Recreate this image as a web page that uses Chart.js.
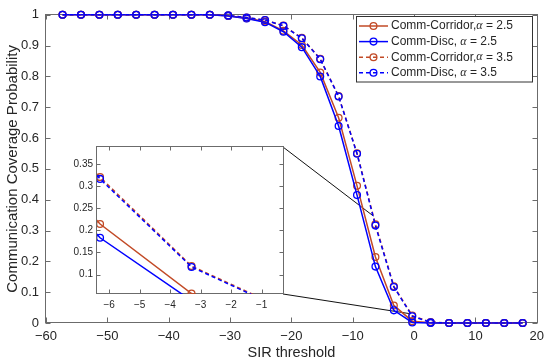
<!DOCTYPE html>
<html lang="en">
<head>
  <meta charset="UTF-8">
  <title>Communication Coverage Probability</title>
  <style>
    html, body { margin: 0; padding: 0; background: #fff; }
    #wrap { position: relative; width: 550px; height: 364px; }
    #mainChart { position: absolute; left: 0; top: 0; }
    #insetChart { position: absolute; left: 60px; top: 137px; }
  </style>
</head>
<body>
  <div id="wrap">
    <canvas id="mainChart" width="550" height="364"></canvas>
    <canvas id="insetChart" width="230" height="180"></canvas>
  </div>
  <script src="https://cdn.jsdelivr.net/npm/chart.js@4.4.1/dist/chart.umd.min.js"></script>
  <script>
    // SIR threshold values (dB)
    const sirThreshold = [-57.3, -54.3, -51.3, -48.3, -45.3, -42.3, -39.3, -36.3, -33.3, -30.3,
      -27.3, -24.3, -21.3, -18.3, -15.3, -12.3, -9.3, -6.3, -3.3, -0.3, 2.7, 5.7, 8.7, 11.7, 14.7, 17.7];

    const corridorA25 = [1, 1, 1, 1, 1, 1, 1, 1, 1, 0.997, 0.989, 0.978, 0.948, 0.902, 0.813, 0.666,
      0.445, 0.214, 0.057, 0.006, 0.001, 0, 0, 0, 0, 0];
    const discA25 = [1, 1, 1, 1, 1, 1, 1, 1, 1, 0.996, 0.988, 0.976, 0.945, 0.895, 0.800, 0.639,
      0.415, 0.183, 0.041, 0.002, 0, 0, 0, 0, 0, 0];
    const corridorA35 = [1, 1, 1, 1, 1, 1, 1, 1, 1, 0.998, 0.991, 0.983, 0.965, 0.925, 0.857, 0.736,
      0.551, 0.320, 0.119, 0.024, 0.003, 0, 0, 0, 0, 0];
    const discA35 = [1, 1, 1, 1, 1, 1, 1, 1, 1, 0.998, 0.991, 0.983, 0.964, 0.924, 0.856, 0.735,
      0.549, 0.316, 0.117, 0.022, 0.002, 0, 0, 0, 0, 0];

    const seriesNames = ['Comm-Corridor,', 'Comm-Disc, ', 'Comm-Corridor,', 'Comm-Disc, '];
    const alphaValues = ['2.5', '2.5', '3.5', '3.5'];

    const xTicksMain = [-60, -50, -40, -30, -20, -10, 0, 10, 20];
    const yTicksMain = [0, 0.1, 0.2, 0.3, 0.4, 0.5, 0.6, 0.7, 0.8, 0.9, 1];
    const xTicksInset = [-6, -5, -4, -3, -2, -1];
    const yTicksInset = [0.1, 0.15, 0.2, 0.25, 0.3, 0.35];

    // zoom connector end points (main-axis data coords)
    const connectorEnds = [{ x: -6.63, y: 0.347 }, { x: -0.6, y: 0.03 }];

    const RED = '#C24A26';
    const BLUE = '#0000FF';
    const AXIS = '#6b6b6b';
    const TEXT = '#262626';
    const FONT = '"Liberation Sans", Arial, sans-serif';

    function pts(ys) {
      return sirThreshold.map((x, i) => ({ x: x, y: ys[i] }));
    }

    function makeDatasets(clip) {
      const styles = [
        { data: corridorA25, color: RED, dash: [], order: 4 },
        { data: discA25, color: BLUE, dash: [], order: 3 },
        { data: corridorA35, color: RED, dash: [4, 3], order: 2 },
        { data: discA35, color: BLUE, dash: [4, 3], order: 1 }
      ];
      return styles.map((s, i) => ({
        label: seriesNames[i] + ' \u03b1 = ' + alphaValues[i],
        data: pts(s.data),
        borderColor: s.color,
        backgroundColor: 'transparent',
        borderWidth: 1.5,
        borderDash: s.dash,
        pointRadius: 3.4,
        pointBorderWidth: 1.3,
        pointBorderColor: s.color,
        pointBackgroundColor: 'transparent',
        pointStyle: 'circle',
        tension: 0,
        order: s.order,
        clip: clip
      }));
    }

    function fmt(v) {
      const s = String(+v.toFixed(2));
      return s.replace('-', '\u2212');
    }

    // box around the axes with inward tick marks on all four sides
    const frameTicks = {
      id: 'frameTicks',
      beforeDatasetsDraw(chart, args, opts) {
        const { ctx, chartArea: a, scales } = chart;
        const L = Math.round(a.left) - 0.5, R = Math.round(a.right) + 0.5;
        const T = Math.round(a.top) - 0.5, B = Math.round(a.bottom) - 0.5;
        const len = opts.len || 5;
        ctx.save();
        ctx.fillStyle = '#fff';
        ctx.fillRect(L, T, R - L, B - T);
        ctx.strokeStyle = AXIS;
        ctx.lineWidth = 1;
        ctx.beginPath();
        scales.x.ticks.forEach(t => {
          const px = Math.round(scales.x.getPixelForValue(t.value)) + 0.5;
          ctx.moveTo(px, B); ctx.lineTo(px, B - len);
          ctx.moveTo(px, T); ctx.lineTo(px, T + len);
        });
        scales.y.ticks.forEach(t => {
          const py = Math.round(scales.y.getPixelForValue(t.value)) + 0.5;
          ctx.moveTo(L, py); ctx.lineTo(L + len, py);
          ctx.moveTo(R, py); ctx.lineTo(R - len, py);
        });
        ctx.stroke();
        ctx.strokeRect(L, T, R - L, B - T);
        ctx.restore();
      }
    };

    // lines from the inset corners to the magnified region
    const connectors = {
      id: 'connectors',
      beforeDatasetsDraw(chart) {
        const inset = window.insetChart;
        if (!inset) return;
        const { ctx, scales } = chart;
        const box = document.getElementById('insetChart');
        const ox = box.offsetLeft, oy = box.offsetTop;
        const ia = inset.chartArea;
        const starts = [{ x: ox + ia.right, y: oy + ia.top }, { x: ox + ia.right, y: oy + ia.bottom }];
        ctx.save();
        ctx.strokeStyle = '#111';
        ctx.lineWidth = 1;
        ctx.beginPath();
        starts.forEach((s, i) => {
          ctx.moveTo(s.x, s.y);
          ctx.lineTo(scales.x.getPixelForValue(connectorEnds[i].x), scales.y.getPixelForValue(connectorEnds[i].y));
        });
        ctx.stroke();
        ctx.restore();
      }
    };

    const legendBox = {
      id: 'legendBox',
      afterDraw(chart) {
        const ctx = chart.ctx;
        const left = 356.5, top = 16.5, w = 176, h = 65.5;
        ctx.save();
        ctx.fillStyle = '#fff';
        ctx.fillRect(left, top, w, h);
        ctx.strokeStyle = '#333';
        ctx.lineWidth = 1;
        ctx.strokeRect(left, top, w, h);
        [0, 1, 2, 3].forEach(i => {
          const ds = chart.data.datasets[i];
          const y = 26 + i * 15.6;
          ctx.strokeStyle = ds.borderColor;
          ctx.lineWidth = 1.5;
          ctx.setLineDash(ds.borderDash);
          ctx.beginPath();
          ctx.moveTo(359, y); ctx.lineTo(388, y);
          ctx.stroke();
          ctx.setLineDash([]);
          ctx.lineWidth = 1.3;
          ctx.beginPath();
          ctx.arc(373.5, y, 3.4, 0, Math.PI * 2);
          ctx.stroke();
          ctx.fillStyle = TEXT;
          ctx.textBaseline = 'middle';
          let x = 391;
          ctx.font = '12px ' + FONT;
          ctx.fillText(seriesNames[i], x, y);
          x += ctx.measureText(seriesNames[i]).width;
          ctx.font = 'italic 12px "Liberation Serif", "Times New Roman", serif';
          ctx.fillText('\u03b1', x, y);
          x += ctx.measureText('\u03b1').width;
          ctx.font = '12px ' + FONT;
          ctx.fillText(' = ' + alphaValues[i], x, y);
        });
        ctx.restore();
      }
    };

    const noGrid = { display: false, drawTicks: false, tickLength: 0 };

    // inset (magnified) chart is made first so the main chart can attach connectors to it
    window.insetChart = new Chart(document.getElementById('insetChart'), {
      type: 'line',
      data: { datasets: makeDatasets(undefined) },
      options: {
        responsive: false,
        animation: false,
        layout: { padding: { top: 10, right: 7, left: 0, bottom: 0 } },
        plugins: { legend: { display: false }, tooltip: { enabled: false }, frameTicks: { len: 4 } },
        scales: {
          x: {
            type: 'linear', min: -6.4, max: -0.3,
            grid: noGrid, border: { display: false },
            afterBuildTicks: s => { s.ticks = xTicksInset.map(v => ({ value: v })); },
            afterFit: s => { s.height = 23; },
            ticks: { padding: 5, color: TEXT, font: { family: FONT, size: 10 }, callback: fmt, maxRotation: 0 }
          },
          y: {
            type: 'linear', min: 0.056, max: 0.388,
            grid: noGrid, border: { display: false },
            afterBuildTicks: s => { s.ticks = yTicksInset.map(v => ({ value: v })); },
            afterFit: s => { s.width = 37; },
            ticks: { padding: 4, color: TEXT, font: { family: FONT, size: 10 }, callback: fmt }
          }
        }
      },
      plugins: [frameTicks]
    });

    const mainChart = new Chart(document.getElementById('mainChart'), {
      type: 'line',
      data: { datasets: makeDatasets(false) },
      options: {
        responsive: false,
        animation: false,
        layout: { padding: { top: 10, right: 11, left: 0, bottom: 0 } },
        plugins: { legend: { display: false }, tooltip: { enabled: false }, frameTicks: { len: 5 } },
        scales: {
          x: {
            type: 'linear', min: -60, max: 20,
            grid: noGrid, border: { display: false },
            afterBuildTicks: s => { s.ticks = xTicksMain.map(v => ({ value: v })); },
            afterFit: s => { s.height = 41; },
            ticks: { padding: 6, color: TEXT, font: { family: FONT, size: 13 }, callback: fmt, maxRotation: 0 },
            title: { display: true, text: 'SIR threshold', color: TEXT, padding: { top: 0, bottom: 2 },
              font: { family: FONT, size: 14.5 } }
          },
          y: {
            type: 'linear', min: 0, max: 1,
            grid: noGrid, border: { display: false },
            afterBuildTicks: s => { s.ticks = yTicksMain.map(v => ({ value: v })); },
            afterFit: s => { s.width = 46; },
            ticks: { padding: 7, color: TEXT, font: { family: FONT, size: 13 }, callback: fmt },
            title: { display: true, text: 'Communication Coverage Probability', color: TEXT, padding: { top: 4, bottom: 0 },
              font: { family: FONT, size: 15 } }
          }
        }
      },
      plugins: [frameTicks, connectors, legendBox]
    });
  </script>
</body>
</html>
